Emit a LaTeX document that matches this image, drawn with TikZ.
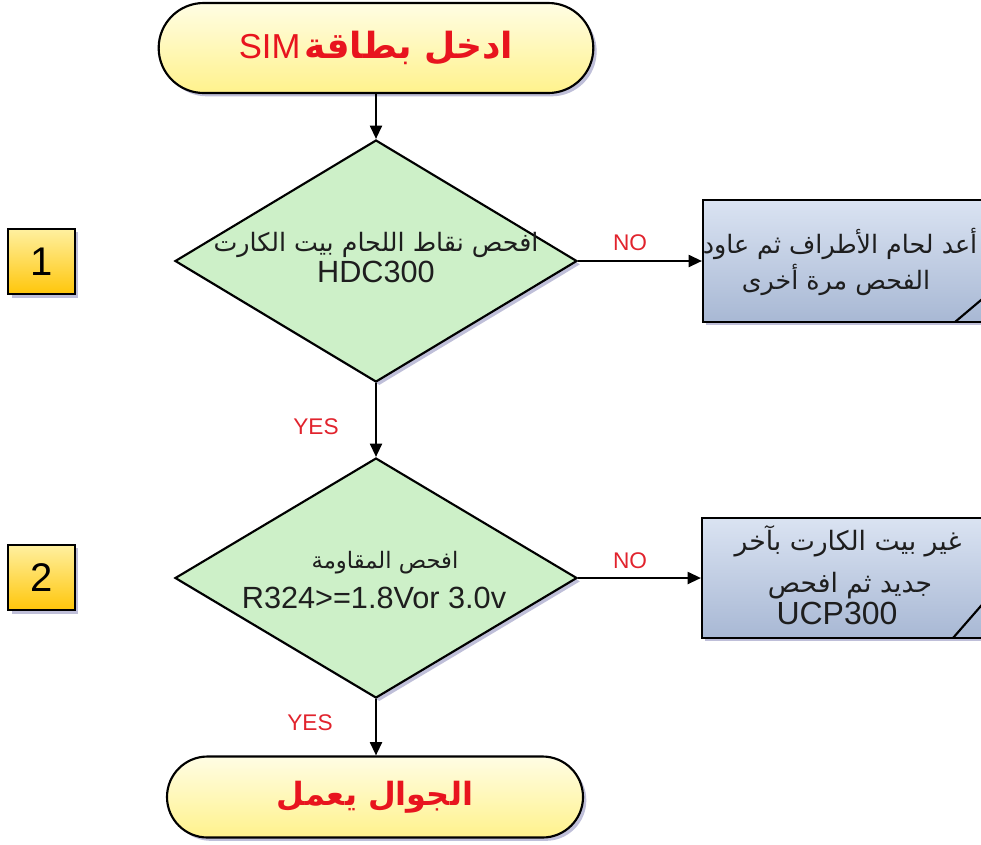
\documentclass[tikz,border=0pt]{standalone}
\usepackage{fontspec}
\setmainfont{Liberation Sans}
\newfontfamily\arabicfont[Script=Arabic]{DejaVu Sans}
\TeXXeTstate=1
\usetikzlibrary{shapes.geometric,shapes.misc,shadows,arrows.meta,calc}
\definecolor{termtop}{RGB}{255,253,228}
\definecolor{termbot}{RGB}{255,242,140}
\definecolor{dgreen}{RGB}{205,240,200}
\definecolor{boxtop}{RGB}{218,227,242}
\definecolor{boxbot}{RGB}{168,184,212}
\definecolor{goldA}{RGB}{255,240,160}
\definecolor{goldB}{RGB}{255,198,10}
\definecolor{txtred}{RGB}{232,20,30}
\definecolor{lblred}{RGB}{225,35,45}
\definecolor{txtdark}{RGB}{30,30,30}
\tikzset{
  shad/.style={drop shadow={opacity=0.25,fill=black!60!blue,shadow xshift=2.5pt,shadow yshift=-2.5pt}},
  term/.style={rounded rectangle, draw=black, line width=1.6pt, shading angle=160, top color=termtop, bottom color=termbot, shad, inner sep=0pt},
  decision/.style={diamond, draw=black, line width=1.6pt, fill=dgreen, shad, inner sep=0pt},
  notebox/.style={rectangle, draw=black, line width=1.6pt, top color=boxtop, bottom color=boxbot, shad, inner sep=0pt},
  numbox/.style={rectangle, draw=black, line width=1.6pt, shading angle=135, top color=goldA, bottom color=goldB, shad, minimum width=50pt, minimum height=49pt, font=\fontsize{30}{32}\selectfont},
  conn/.style={draw=black, line width=1.6pt, -{Triangle[length=10pt,width=9pt]}},
  lbl/.style={text=lblred, font=\fontsize{17}{19}\selectfont, inner sep=0pt},
  dtext/.style={text=txtdark, inner sep=0pt},
  artext/.style={dtext, font=\arabicfont\fontsize{19}{22}\selectfont},
}
\begin{document}
\begin{tikzpicture}[x=0.75pt,y=0.75pt]
\useasboundingbox (0,0) rectangle (981,-844);
\clip (0,0) rectangle (981,-844);
% terminators
\node[term, minimum width=326pt, minimum height=67.5pt] (start) at (376,-48) {};
\node[inner sep=0pt] (starttxt) at (376,-48) {{\fontsize{26}{28}\selectfont\color{txtred}SIM} {\arabicfont\bfseries\fontsize{27}{30}\selectfont\color{txtred}\beginR ادخل بطاقة\endR}};
\node[term, minimum width=312pt, minimum height=60.75pt] (stop) at (375,-797) {};
\node[inner sep=0pt] (stoptxt) at (375,-797) {\arabicfont\bfseries\fontsize{24}{28}\selectfont\color{txtred}\beginR الجوال يعمل\endR};
% decisions
\node[decision, minimum width=301.5pt, minimum height=181.5pt] (d1) at (376,-261) {};
\node[artext] (d1a) at (376,-245) {\beginR افحص نقاط اللحام بيت الكارت\endR};
\node[dtext, font=\fontsize{23}{26}\selectfont] (d1b) at (376,-272) {HDC300};
\node[decision, minimum width=301.5pt, minimum height=180pt] (d2) at (376,-578) {};
\node[dtext, font=\arabicfont\fontsize{17}{20}\selectfont] (d2a) at (385,-563) {\beginR افحص المقاومة\endR};
\node[dtext, font=\fontsize{23}{26}\selectfont] (d2b) at (374,-598) {R324>=1.8Vor 3.0v};
% note boxes
\node[notebox, minimum width=222.75pt, minimum height=91.5pt] (b1) at (851.5,-261) {};
\draw[line width=1.6pt] (955,-322) -- (1000,-284);
\node[artext] (b1a) at (840,-244) {\beginR أعد لحام الأطراف ثم عاود\endR};
\node[artext] (b1b) at (836,-280) {\beginR الفحص مرة أخرى\endR};
\node[notebox, minimum width=223.5pt, minimum height=90pt] (b2) at (851,-578) {};
\draw[line width=1.6pt] (953,-638) -- (1000,-584);
\node[artext, font=\arabicfont\fontsize{20}{22}\selectfont] (b2a) at (848,-541) {\beginR غير بيت الكارت بآخر\endR};
\node[artext, font=\arabicfont\fontsize{20}{22}\selectfont] (b2b) at (850,-586) {\beginR جديد ثم افحص\endR};
\node[dtext, font=\fontsize{24}{26}\selectfont] (b2c) at (837,-613) {UCP300};
% number boxes
\node[numbox] (n1) at (41.5,-261.5) {1};
\node[numbox] (n2) at (41.5,-577.5) {2};
% connectors
\draw[conn] (start.south) -- (d1.north);
\draw[conn] (d1.east) -- (b1.west);
\draw[conn] (d1.south) -- (d2.north);
\draw[conn] (d2.east) -- (b2.west);
\draw[conn] (d2.south) -- (stop.north -| d2.south);
% labels
\node[lbl] (no1) at (630,-243) {NO};
\node[lbl] (no2) at (630,-561) {NO};
\node[lbl] (yes1) at (316,-427) {YES};
\node[lbl] (yes2) at (310,-723) {YES};
\end{tikzpicture}
\end{document}
